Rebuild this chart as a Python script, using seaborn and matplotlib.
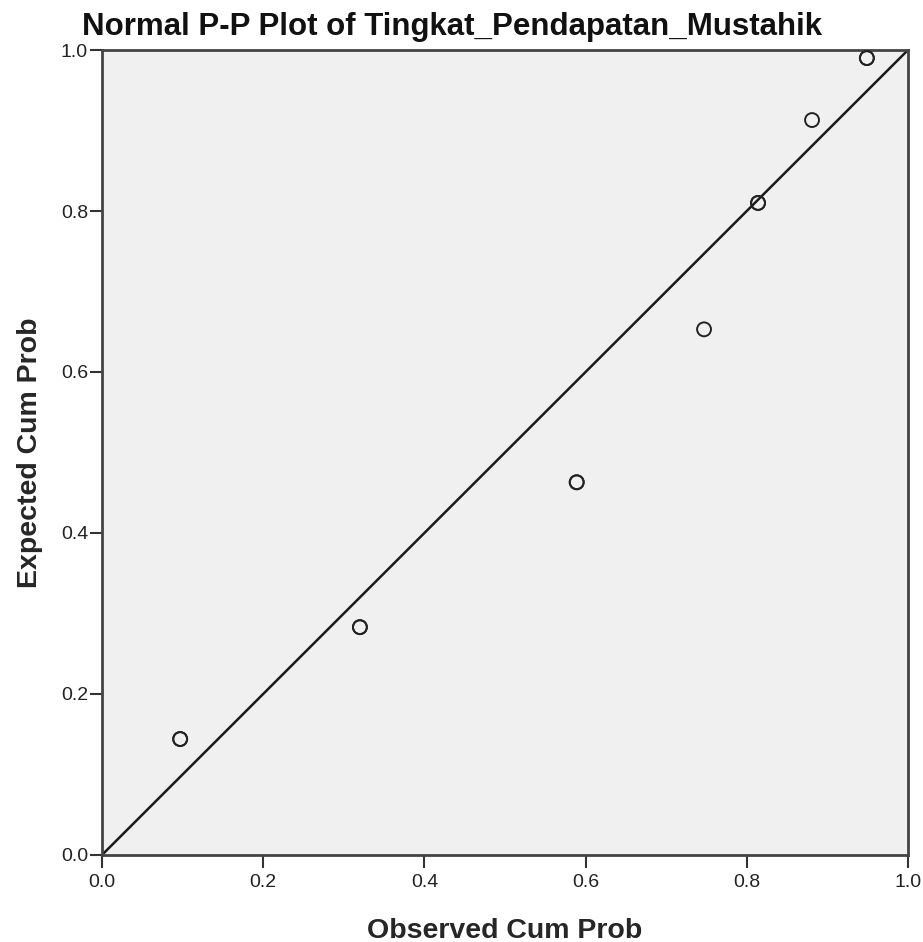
import matplotlib
matplotlib.use("Agg")
import matplotlib.pyplot as plt
import seaborn as sns
import pandas as pd

observed = [0.097, 0.320, 0.589, 0.747, 0.814, 0.881, 0.949]
expected = [0.144, 0.283, 0.463, 0.653, 0.810, 0.913, 0.990]
counts = [2, 2, 2, 1, 2, 1, 2]  # overlapping cases render darker
ticks = [0.0, 0.2, 0.4, 0.6, 0.8, 1.0]
tick_labels = ["0.0", "0.2", "0.4", "0.6", "0.8", "1.0"]

rows = []
for o, e, c in zip(observed, expected, counts):
    for _ in range(c):
        rows.append({"Observed": o, "Expected": e})
df = pd.DataFrame(rows)

sns.set_style("white")
plt.rcParams['font.family'] = ['Liberation Sans', 'DejaVu Sans']

fig = plt.figure(figsize=(9.23, 9.42), dpi=100)
ax = fig.add_axes([0.1105, 0.0924, 0.8732, 0.8545])
ax.set_facecolor("#f0f0f0")

ax.plot([0, 1], [0, 1], color="#1a1a1a", lw=1.8, zorder=2)
sns.scatterplot(data=df, x="Observed", y="Expected", ax=ax, marker="o",
                s=100, facecolor="none", edgecolor="#222222", linewidth=1.4,
                zorder=3, legend=False)

ax.set_xlim(0, 1)
ax.set_ylim(0, 1)
ax.set_xticks(ticks)
ax.set_xticklabels(tick_labels)
ax.set_yticks(ticks)
ax.set_yticklabels(tick_labels)
ax.tick_params(axis="both", direction="out", length=9, width=1.5,
               color="#333333", labelsize=14, labelcolor="#222222",
               bottom=True, left=True)
ax.tick_params(axis="x", pad=5)
ax.tick_params(axis="y", pad=1)
for sp in ax.spines.values():
    sp.set_color("#444444")
    sp.set_linewidth(2)

ax.set_xlabel("Observed Cum Prob", fontsize=20.5, fontweight="bold", labelpad=19)
ax.set_ylabel("Expected Cum Prob", fontsize=20.5, fontweight="bold", labelpad=13)
fig.text(0.49, 1 - 35 / 942, "Normal P-P Plot of Tingkat_Pendapatan_Mustahik",
         ha="center", va="baseline", fontsize=22.5, fontweight="bold",
         color="#111111")

fig.savefig("out.png", dpi=100)
